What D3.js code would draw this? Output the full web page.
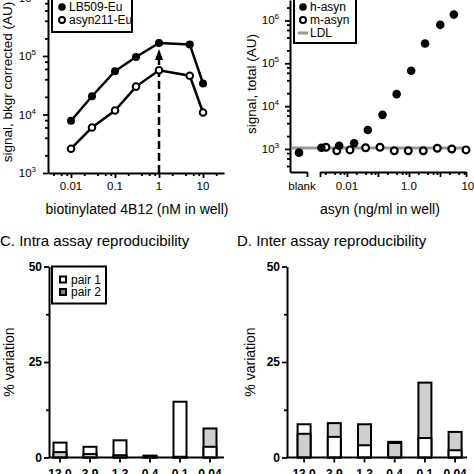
<!DOCTYPE html>
<html><head><meta charset="utf-8">
<script src="https://cdn.jsdelivr.net/npm/d3@7"></script>
<style>
body{margin:0;background:#fff}
svg{display:block}
text{font-family:"Liberation Sans",Arial,Helvetica,sans-serif;fill:#000}
</style>
</head><body><svg id="c" width="474" height="474"></svg>
<script>
// ---------- Panel A data ----------
const aConc = [0.01, 0.03, 0.1, 0.3, 1, 5, 10];
const aLB509 = [7800, 20500, 55000, 96000, 167000, 158000, 34000];
const aAsyn211 = [2600, 6000, 11700, 30000, 57000, 46000, 10800];
const aXTicks = [0.01, 0.1, 1, 10];
const aXTickLabels = ["0.01", "0.1", "1", "10"];
const aYTicks = [1e3, 1e4, 1e5, 1e6];
const aYExp = ["3", "4", "5", "6"];
const aArrowAt = 1;
const aSeriesNames = ["LB509-Eu", "asyn211-Eu"];

// ---------- Panel B data ----------
const bBlank = 820;
const hConc = [0.0015, 0.0056, 0.017, 0.047, 0.14, 0.40, 1.18, 3.3, 10.2, 28];
const hSignal = [1070, 1190, 1360, 2780, 6250, 19100, 67000, 290000, 790000, 1370000];
const mConc = [0.0021, 0.0047, 0.0125, 0.040, 0.116, 0.335, 0.95, 2.9, 8.2, 24, 69];
const mSignal = [1100, 910, 950, 1070, 1100, 910, 910, 910, 1040, 1000, 950];
const ldl = 1060;
const bXTicks = [0.01, 0.1, 1, 10];
const bXLabelVals = [0.01, 1, 100];
const bXLabels = ["0.01", "1.0", "100"];
const bYTicks = [1e3, 1e4, 1e5, 1e6];
const bYExp = ["3", "4", "5", "6"];
const bSeriesNames = ["h-asyn", "m-asyn", "LDL"];

// ---------- Panels C / D data ----------
const cats = ["13.0", "3.9", "1.3", "0.4", "0.1", "0.04"];
const cPair1 = [3.9, 2.8, 4.5, 0.5, 14.6, 2.8];
const cPair2 = [1.4, 0.9, 0.6, 0.3, 0.2, 7.6];
const dPair1 = [8.7, 5.4, 3.2, 4.1, 5.1, 1.9];
const dPair2 = [6.2, 9.0, 8.7, 3.8, 19.6, 6.7];
const pctTicks = [0, 25, 50];
const pctMinor = [12.5, 37.5];
const pairNames = ["pair 1", "pair 2"];

const GRAY = "#cfcfcf";
const svg = d3.select("#c");

function minorLog(domain, mults) {
  const out = [];
  const lo = Math.floor(Math.log10(domain[0])), hi = Math.ceil(Math.log10(domain[1]));
  for (let e = lo; e <= hi; e++) for (const m of mults) {
    const v = m * Math.pow(10, e);
    if (v >= domain[0] && v <= domain[1]) out.push(v);
  }
  return out;
}
function styleAxis(g, w) {
  g.selectAll("path.domain").attr("stroke", "#000").attr("stroke-width", w || 2);
  g.selectAll(".tick line").attr("stroke", "#000").attr("stroke-width", 1.8);
}
function supLabel(g, x, y, base, exp, anchor) {
  const t = g.append("text").attr("x", x).attr("y", y).attr("text-anchor", anchor || "end")
    .attr("font-size", 11.5);
  t.append("tspan").text(base);
  t.append("tspan").attr("dy", -5).attr("font-size", 8).text(exp);
}

// =============== PANEL A ===============
const xA = d3.scaleLog().domain([0.0030, 30]).range([48, 224]);
const yA = d3.scaleLog().domain([1e3, 1e6]).range([173, -2.5]);
const gA = svg.append("g");

const axAx = gA.append("g").attr("transform", "translate(0,173)")
  .call(d3.axisBottom(xA).tickValues(aXTicks).tickSize(5).tickSizeOuter(0).tickFormat(""));
styleAxis(axAx);
const axAxm = gA.append("g").attr("transform", "translate(0,173)")
  .call(d3.axisBottom(xA).tickValues(minorLog(xA.domain(), [2, 4, 6, 8])).tickSize(3).tickFormat(""));
axAxm.select("path.domain").remove(); styleAxis(axAxm);
aXTicks.forEach((v, i) => gA.append("text").attr("x", xA(v)).attr("y", 190)
  .attr("text-anchor", "middle").attr("font-size", 11.5).text(aXTickLabels[i]));

const ayAx = gA.append("g").attr("transform", "translate(48,0)")
  .call(d3.axisLeft(yA).tickValues(aYTicks).tickSize(5).tickSizeOuter(0).tickFormat(""));
styleAxis(ayAx);
const ayAxm = gA.append("g").attr("transform", "translate(48,0)")
  .call(d3.axisLeft(yA).tickValues(minorLog(yA.domain(), [2, 4, 6, 8])).tickSize(3).tickFormat(""));
ayAxm.select("path.domain").remove(); styleAxis(ayAxm);
aYTicks.forEach((v, i) => supLabel(gA, 36, yA(v) + 4, "10", aYExp[i]));

gA.append("text").attr("transform", "translate(12,82) rotate(-90)").attr("text-anchor", "middle")
  .attr("font-size", 13.5).text("signal, bkgr corrected (AU)");
gA.append("text").attr("x", 137).attr("y", 214).attr("text-anchor", "middle")
  .attr("font-size", 14).text("biotinylated 4B12 (nM in well)");

gA.append("line").attr("x1", xA(aArrowAt)).attr("x2", xA(aArrowAt)).attr("y1", 173).attr("y2", 58)
  .attr("stroke", "#000").attr("stroke-width", 2.5).attr("stroke-dasharray", "8,4");
gA.append("path").attr("d", d3.line()([[xA(aArrowAt) - 4, 60], [xA(aArrowAt), 49], [xA(aArrowAt) + 4, 60]]) + "Z")
  .attr("fill", "#000");

const lineA = d3.line().x(d => xA(d[0])).y(d => yA(d[1]));
const sA1 = aConc.map((c, i) => [c, aLB509[i]]);
const sA2 = aConc.map((c, i) => [c, aAsyn211[i]]);
gA.append("path").attr("d", lineA(sA1)).attr("fill", "none").attr("stroke", "#000").attr("stroke-width", 2.5);
gA.append("path").attr("d", lineA(sA2)).attr("fill", "none").attr("stroke", "#000").attr("stroke-width", 2.5);
gA.selectAll(".p1").data(sA1).join("circle").attr("cx", d => xA(d[0])).attr("cy", d => yA(d[1]))
  .attr("r", 4).attr("fill", "#000");
gA.selectAll(".p2").data(sA2).join("circle").attr("cx", d => xA(d[0])).attr("cy", d => yA(d[1]))
  .attr("r", 3.3).attr("fill", "#fff").attr("stroke", "#000").attr("stroke-width", 2);

gA.append("rect").attr("x", 52).attr("y", -3).attr("width", 80).attr("height", 35)
  .attr("fill", "#fff").attr("stroke", "#000").attr("stroke-width", 2);
gA.append("circle").attr("cx", 62).attr("cy", 7).attr("r", 3.8).attr("fill", "#000");
gA.append("circle").attr("cx", 62).attr("cy", 20).attr("r", 3).attr("fill", "#fff").attr("stroke", "#000").attr("stroke-width", 2);
gA.append("text").attr("x", 69).attr("y", 11).attr("font-size", 12).text(aSeriesNames[0]);
gA.append("text").attr("x", 69).attr("y", 24).attr("font-size", 12).text(aSeriesNames[1]);

// =============== PANEL B ===============
const xB = d3.scaleLog().domain([0.00135, 69]).range([320, 466]);
const yB = d3.scaleLog().domain([290, 3.0e6]).range([172, 0]);
const blankX = 299;
const gB = svg.append("g");

gB.append("line").attr("x1", 292).attr("x2", 468).attr("y1", yB(ldl)).attr("y2", yB(ldl))
  .attr("stroke", "#999").attr("stroke-width", 3);

const blankScale = d3.scaleLinear().domain([0, 1]).range([290, 307]);
const bxb = gB.append("g").attr("transform", "translate(0,172)")
  .call(d3.axisBottom(blankScale).tickValues([1]).tickSize(5).tickSizeOuter(0).tickFormat(""));
styleAxis(bxb);
gB.append("text").attr("x", 302).attr("y", 190).attr("text-anchor", "middle").attr("font-size", 11.5).text("blank");
const bxa = gB.append("g").attr("transform", "translate(0,172)")
  .call(d3.axisBottom(xB).tickValues(bXTicks.concat([xB.domain()[0], xB.domain()[1]])).tickSize(5).tickSizeOuter(0).tickFormat(""));
styleAxis(bxa);
const bxm = gB.append("g").attr("transform", "translate(0,172)")
  .call(d3.axisBottom(xB).tickValues(minorLog(xB.domain(), [2, 4, 6, 8])).tickSize(3).tickFormat(""));
bxm.select("path.domain").remove(); styleAxis(bxm);
bXLabelVals.forEach((v, i) => gB.append("text").attr("x", xB(v)).attr("y", 190)
  .attr("text-anchor", "middle").attr("font-size", 11.5).text(bXLabels[i]));

const byA = gB.append("g").attr("transform", "translate(290,0)")
  .call(d3.axisLeft(yB).tickValues(bYTicks).tickSize(5).tickSizeOuter(0).tickFormat(""));
styleAxis(byA);
const byM = gB.append("g").attr("transform", "translate(290,0)")
  .call(d3.axisLeft(yB).tickValues(minorLog(yB.domain(), [2, 4, 6, 8])).tickSize(3).tickFormat(""));
byM.select("path.domain").remove(); styleAxis(byM);
bYTicks.forEach((v, i) => supLabel(gB, 279, yB(v) + 4, "10", bYExp[i]));

gB.append("text").attr("transform", "translate(256,84) rotate(-90)").attr("text-anchor", "middle")
  .attr("font-size", 13.5).text("signal, total (AU)");
gB.append("text").attr("x", 380).attr("y", 214).attr("text-anchor", "middle")
  .attr("font-size", 14).text("asyn (ng/ml in well)");

gB.selectAll(".m").data(mConc.map((c, i) => [c, mSignal[i]])).join("circle")
  .attr("cx", d => xB(d[0])).attr("cy", d => yB(d[1])).attr("r", 3.4)
  .attr("fill", "#fff").attr("stroke", "#000").attr("stroke-width", 2.2);
gB.selectAll(".h").data(hConc.map((c, i) => [c, hSignal[i]])).join("circle")
  .attr("cx", d => xB(d[0])).attr("cy", d => yB(d[1])).attr("r", 4.3).attr("fill", "#000");
gB.append("circle").attr("cx", blankX).attr("cy", yB(bBlank)).attr("r", 4.3).attr("fill", "#000");

gB.append("rect").attr("x", 294).attr("y", -3).attr("width", 62).attr("height", 46)
  .attr("fill", "#fff").attr("stroke", "#000").attr("stroke-width", 2);
gB.append("circle").attr("cx", 303).attr("cy", 7).attr("r", 3.8).attr("fill", "#000");
gB.append("circle").attr("cx", 303).attr("cy", 20).attr("r", 3).attr("fill", "#fff").attr("stroke", "#000").attr("stroke-width", 2);
gB.append("line").attr("x1", 298).attr("x2", 308).attr("y1", 33).attr("y2", 33).attr("stroke", "#999").attr("stroke-width", 3);
gB.append("text").attr("x", 310).attr("y", 11).attr("font-size", 12).text(bSeriesNames[0]);
gB.append("text").attr("x", 310).attr("y", 24).attr("font-size", 12).text(bSeriesNames[1]);
gB.append("text").attr("x", 310).attr("y", 37).attr("font-size", 12).text(bSeriesNames[2]);

// =============== PANELS C & D ===============
function barPanel(ox, axisX, axisEnd, p1, p2, title, showLegend, ylabX) {
  const g = svg.append("g");
  const x = d3.scaleBand().domain(cats).range([axisX + (ox === 0 ? -4 : 2), axisX + (ox === 0 ? 176 : 183.2)]).padding(0);
  const y = d3.scaleLinear().domain([0, 50]).range([457.5, 266.5]);
  g.append("text").attr("x", ox).attr("y", 246).attr("font-size", 15).text(title);
  const bw = 13;
  cats.forEach((c, i) => {
    const items = [{v: p1[i], fill: "#fff"}, {v: p2[i], fill: GRAY}].sort((a, b) => b.v - a.v);
    items.forEach(it => {
      g.append("rect").attr("x", x(c) + x.bandwidth() / 2 - bw / 2).attr("y", y(it.v))
        .attr("width", bw).attr("height", y(0) - y(it.v))
        .attr("fill", it.fill).attr("stroke", "#000").attr("stroke-width", 2);
    });
  });
  const xa = g.append("g").attr("transform", `translate(0,${y(0)})`)
    .call(d3.axisBottom(x).tickSize(5).tickSizeOuter(0));
  xa.select("path.domain").attr("d", `M${axisX},0H${axisEnd}`);
  styleAxis(xa);
  xa.selectAll(".tick text").attr("font-size", 12).attr("font-weight", "bold").attr("y", 12)
    .attr("font-family", '"Liberation Sans",Arial,sans-serif');
  const ya = g.append("g").attr("transform", `translate(${axisX},0)`)
    .call(d3.axisLeft(y).tickValues(pctTicks).tickSize(5).tickSizeOuter(0));
  styleAxis(ya);
  ya.selectAll(".tick text").attr("font-size", 12).attr("font-weight", "bold").attr("x", -7)
    .attr("font-family", '"Liberation Sans",Arial,sans-serif');
  const ym = g.append("g").attr("transform", `translate(${axisX},0)`)
    .call(d3.axisLeft(y).tickValues(pctMinor).tickSize(3).tickFormat(""));
  ym.select("path.domain").remove(); styleAxis(ym);
  g.append("text").attr("transform", `translate(${ylabX},362) rotate(-90)`).attr("text-anchor", "middle")
    .attr("font-size", 14).text("% variation");
  if (showLegend) {
    g.append("rect").attr("x", axisX + 3).attr("y", 266.5).attr("width", 54).attr("height", 37)
      .attr("fill", "#fff").attr("stroke", "#000").attr("stroke-width", 2);
    g.append("rect").attr("x", axisX + 11).attr("y", 276.5).attr("width", 6).attr("height", 6)
      .attr("fill", "#fff").attr("stroke", "#000").attr("stroke-width", 2);
    g.append("rect").attr("x", axisX + 11).attr("y", 289).attr("width", 6).attr("height", 6)
      .attr("fill", "#888").attr("stroke", "#000").attr("stroke-width", 2);
    g.append("text").attr("x", axisX + 22).attr("y", 283.5).attr("font-size", 12).text(pairNames[0]);
    g.append("text").attr("x", axisX + 22).attr("y", 296).attr("font-size", 12).text(pairNames[1]);
  }
}
barPanel(0, 49, 224, cPair1, cPair2, "C. Intra assay reproducibility", true, 14);
barPanel(237, 287, 467, dPair1, dPair2, "D. Inter assay reproducibility", false, 255);
</script>
</body></html>
